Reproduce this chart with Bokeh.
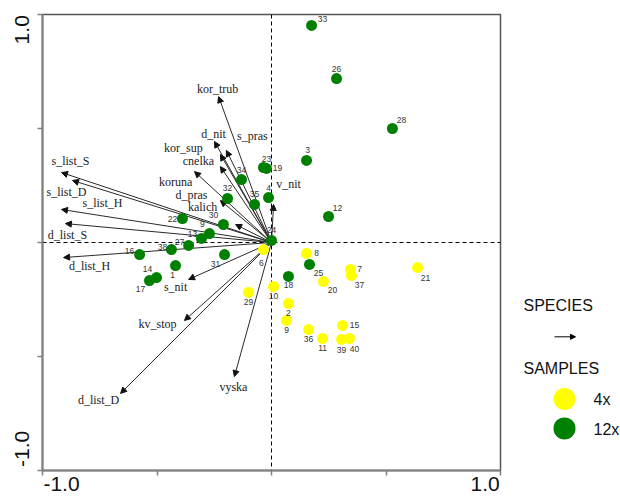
from bokeh.core.properties import value
from bokeh.embed import file_html
from bokeh.layouts import row
from bokeh.models import (Arrow, ColumnDataSource, CustomJSTickFormatter,
                          FixedTicker, LinearAxis, NormalHead, Range1d, Span)
from bokeh.plotting import figure
from bokeh.resources import INLINE

# ---- species (arrows): scores on ordination axes 1 and 2 ----
species = ["kor_trub", "d_nit", "s_pras", "kor_sup", "cnelka", "koruna",
           "d_pras", "kalich", "v_nit", "s_list_S", "s_list_D", "s_list_H",
           "d_list_S", "d_list_H", "s_nit", "kv_stop", "d_list_D", "vyska"]
species_ax1 = [-0.231, -0.249, -0.197, -0.223, -0.223, -0.336,
               -0.223, -0.157, 0.009, -0.917, -0.869, -0.917,
               -0.900, -0.908, -0.362, -0.380, -0.659, -0.162]
species_ax2 = [0.640, 0.443, 0.404, 0.386, 0.333, 0.311,
               0.184, 0.079, 0.167, 0.307, 0.272, 0.145,
               0.083, -0.066, -0.162, -0.342, -0.662, -0.588]

# ---- samples: 4x group ----
samples_4x = ["6", "29", "10", "8", "7", "37", "20", "21", "2", "9",
              "36", "11", "15", "39", "40"]
samples_4x_ax1 = [-0.035, -0.100, 0.009, 0.153, 0.345, 0.349, 0.227, 0.638,
                  0.074, 0.066, 0.162, 0.223, 0.310, 0.306, 0.341]
samples_4x_ax2 = [-0.031, -0.219, -0.193, -0.048, -0.118, -0.145, -0.171,
                  -0.110, -0.268, -0.342, -0.382, -0.421, -0.364, -0.425,
                  -0.421]

# ---- samples: 12x group ----
samples_12x = ["33", "26", "28", "3", "12", "23", "19", "34", "4", "35",
               "32", "24", "30", "9", "13", "22", "27", "38", "16", "31",
               "1", "14", "17", "18", "25"]
samples_12x_ax1 = [0.175, 0.284, 0.528, 0.153, 0.249, -0.035, -0.022,
                   -0.131, -0.013, -0.074, -0.192, 0.000, -0.210, -0.271,
                   -0.306, -0.389, -0.362, -0.437, -0.576, -0.205, -0.419,
                   -0.502, -0.533, 0.074, 0.166]
samples_12x_ax2 = [0.952, 0.719, 0.500, 0.360, 0.114, 0.329, 0.325, 0.276,
                   0.197, 0.167, 0.193, 0.009, 0.079, 0.039, 0.018, 0.105,
                   -0.013, -0.031, -0.053, -0.053, -0.101, -0.154, -0.167,
                   -0.149, -0.096]

axis_ticks = [-1.0, -0.5, 0.0, 0.5, 1.0]
axis_end_labels = ["-1.0", "1.0"]

# label placement (screen pixels, y downwards) so the names do not collide
species_dx = [-1, -1, 26, -37, -22, -19, -29, -33, 15, 9, -6, 41, 2, 26,
              -13, -27, -22, -1]
species_dy = [-8, -7, -14, -6, -6, 10, -6, -17, -20, -12, 12, -6, 11, 8,
              8, 4, 7, 10]
s4_dx = [-2, 0, 0, 10, 9, 8, 9, 8, 0, 0, 0, 0, 12, 0, 5]
s4_dy = [13, 10, 9, 0, 0, 9, 9, 10, 9, 10, 9, 10, 0, 11, 11]
s12_dx = [11, 0, 9, 1, 9, 3, 11, 0, 0, 0, 0, 0, -10, -7, -9, -10, -9, -9,
          -10, -9, -3, -9, -9, 0, 9]
s12_dy = [-6, -10, -9, -10, -9, -8, 0, -10, -10, -10, -10, -10, -9, -10,
          -4, 0, -3, -3, -4, 9, 9, -9, 8, 9, 9]

YELLOW = "#FFFF00"
GREEN = "#008000"
AXIS_GREY = "#808080"

p = figure(width=502, height=498, x_range=Range1d(-1, 1),
           y_range=Range1d(-1, 1), output_backend="svg",
           toolbar_location=None, min_border_left=42, min_border_right=2,
           min_border_top=14, min_border_bottom=28)
p.grid.visible = False
p.background_fill_color = "white"
p.border_fill_color = "white"
p.outline_line_color = "#555555"
p.outline_line_width = 1.5

# tick marks only on the main axes
no_label = CustomJSTickFormatter(code="return '';")
for ax in (p.xaxis[0], p.yaxis[0]):
    ax.ticker = FixedTicker(ticks=axis_ticks)
    ax.formatter = no_label
    ax.major_label_text_font_size = "1px"
    ax.major_label_standoff = 0
    ax.minor_tick_line_color = None
    ax.major_tick_in = 0
    ax.major_tick_out = 5
    ax.major_tick_line_color = AXIS_GREY
    ax.major_tick_line_width = 1.5
    ax.axis_line_color = AXIS_GREY
    ax.axis_line_width = 2

# end labels of each axis sit inside the axis span, flush with its ends:
# a second, line-less axis carries them, ticked half a label inward
end_fmt = CustomJSTickFormatter(code="return tick < 0 ? '%s' : '%s';"
                                % tuple(axis_end_labels))
x_end_axis = LinearAxis(ticker=FixedTicker(ticks=[-0.917, 0.933]),
                        formatter=end_fmt)
y_end_axis = LinearAxis(ticker=FixedTicker(ticks=[-0.905, 0.933]),
                        formatter=end_fmt, major_label_orientation="vertical")
for ax in (x_end_axis, y_end_axis):
    ax.axis_line_color = None
    ax.major_tick_line_color = None
    ax.minor_tick_line_color = None
    ax.major_tick_out = 0
    ax.major_tick_in = 0
    ax.major_label_text_font = "Liberation Sans"
    ax.major_label_text_font_size = "21px"
    ax.major_label_text_color = "#111111"
x_end_axis.major_label_standoff = 1
y_end_axis.major_label_standoff = 8
p.add_layout(x_end_axis, "below")
p.add_layout(y_end_axis, "left")

# zero lines
for dim in ("width", "height"):
    p.add_layout(Span(location=0, dimension=dim, line_color="black",
                      line_width=1, line_dash="4 3", level="underlay"))

# species arrows from the origin
arrow_src = ColumnDataSource(dict(
    x0=[0.0] * len(species), y0=[0.0] * len(species),
    x1=species_ax1, y1=species_ax2))
p.add_layout(Arrow(source=arrow_src, x_start="x0", y_start="y0",
                   x_end="x1", y_end="y1", line_color="#2a2a2a",
                   line_width=1, level="underlay",
                   end=NormalHead(size=6, fill_color="#111111",
                                  line_color="#111111", line_width=1)))

p.text(x=species_ax1, y=species_ax2, text=species,
       x_offset=species_dx, y_offset=species_dy,
       text_font=value("Liberation Serif"), text_font_size="12px",
       text_color="#222222", text_align="center", text_baseline="middle")

# samples
p.scatter(x=samples_4x_ax1, y=samples_4x_ax2, size=11,
          fill_color=YELLOW, line_color=None)
p.scatter(x=samples_12x_ax1, y=samples_12x_ax2, size=11,
          fill_color=GREEN, line_color=None)

for ids, xs, ys, dx, dy in ((samples_4x, samples_4x_ax1, samples_4x_ax2,
                             s4_dx, s4_dy),
                            (samples_12x, samples_12x_ax1, samples_12x_ax2,
                             s12_dx, s12_dy)):
    p.text(x=xs, y=ys, text=ids, x_offset=dx, y_offset=dy,
           text_font=value("Liberation Sans"), text_font_size="8.5px",
           text_color="#333333", text_align="center",
           text_baseline="middle")

# ---- key ----
key = figure(width=118, height=498, x_range=Range1d(502, 620),
             y_range=Range1d(498, 0), output_backend="svg",
             toolbar_location=None, min_border=0)
key.axis.visible = False
key.grid.visible = False
key.outline_line_color = None
key.background_fill_color = "white"
key.border_fill_color = "white"

key_font = dict(text_font=value("Liberation Sans"), text_font_size="16px",
                text_color="#111111", text_baseline="middle",
                text_align="left")
key.text(x=[523, 523], y=[318, 387], text=["SPECIES", "SAMPLES"],
         **key_font)
key.add_layout(Arrow(x_start=554, y_start=352, x_end=575, y_end=352,
                     line_color="black", line_width=1,
                     end=NormalHead(size=5, fill_color="black",
                                    line_color="black")))
key.scatter(x=[564, 564], y=[420, 452], size=22,
            fill_color=[YELLOW, GREEN], line_color=None)
key.text(x=[593, 593], y=[420, 453], text=["4x", "12x"], **key_font)

layout = row(p, key, spacing=0)
open("out.html", "w").write(file_html(layout, INLINE))
